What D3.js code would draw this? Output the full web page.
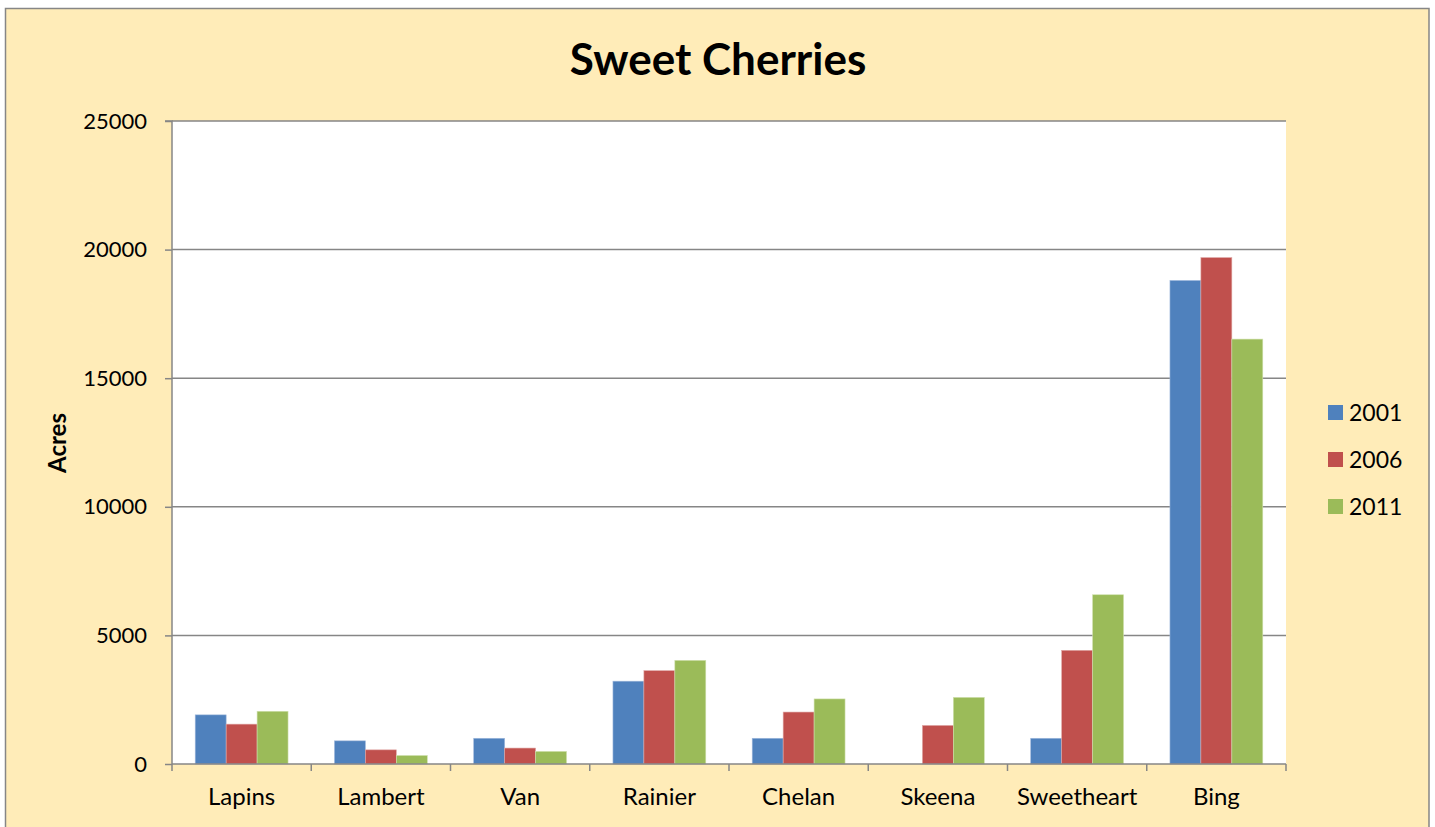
<!DOCTYPE html>
<html><head><meta charset="utf-8">
<script src="https://cdn.jsdelivr.net/npm/d3@7"></script>
<style>html,body{margin:0;padding:0;background:#fff;overflow:hidden}svg{display:block}</style>
</head><body>
<svg id="c" width="1435" height="827"></svg>
<script>
const categories = ["Lapins","Lambert","Van","Rainier","Chelan","Skeena","Sweetheart","Bing"];
const seriesNames = ["2001","2006","2011"];
const values2001 = [1910, 900, 1000, 3220, 1000, 0, 1000, 18800];
const values2006 = [1550, 550, 620, 3630, 2020, 1500, 4420, 19690];
const values2011 = [2050, 330, 490, 4030, 2530, 2590, 6580, 16520];
const yTicks = [0, 5000, 10000, 15000, 20000, 25000];
const colors = ["#4F81BD","#C0504D","#9BBB59"];

const series = [values2001, values2006, values2011];
const svg = d3.select("#c");
const font = "Lato, 'Open Sans', sans-serif";

svg.append("rect").attr("x",5.5).attr("y",8.5).attr("width",1423.5).attr("height",840)
  .attr("fill","#FFECB8").attr("stroke","#868686").attr("stroke-width",1.5);

const L=172, R=1286, T=121, B=764;
svg.append("rect").attr("x",L).attr("y",T).attr("width",R-L).attr("height",B-T).attr("fill","#fff");

const y = d3.scaleLinear().domain([0,25000]).range([B,T]);
const x0 = d3.scaleBand().domain(categories).range([L,R]).paddingInner(0).paddingOuter(0);
const bw = x0.bandwidth()/4.5;
const x1 = d3.scaleBand().domain(seriesNames).range([0, bw*3]);

// gridlines
svg.append("g").selectAll("line").data(yTicks.filter(d=>d>0)).join("line")
  .attr("x1",L).attr("x2",R).attr("y1",d=>y(d)).attr("y2",d=>y(d))
  .attr("stroke","#868686").attr("stroke-width",1.5);

// bars
const strokes = ["#9fb8dc","#e0a9a7","#cfe0ad"];
series.forEach((vals,si)=>{
  svg.append("g").selectAll("rect").data(categories).join("rect")
    .attr("x",(c)=>x0(c)+bw*0.75+x1(seriesNames[si]))
    .attr("width",x1.bandwidth())
    .attr("y",(c,i)=>y(vals[i]))
    .attr("height",(c,i)=>B-y(vals[i]))
    .attr("fill",colors[si])
    .attr("stroke",strokes[si])
    .attr("stroke-width",0.6);
});

// y axis
const yAxis = d3.axisLeft(y).tickValues(yTicks).tickSize(7).tickPadding(18).tickFormat(d3.format("d"));
const gy = svg.append("g").attr("transform",`translate(${L},0)`).call(yAxis);
gy.select(".domain").attr("stroke","#868686").attr("stroke-width",1.5).attr("d",`M-7,${T}H0V${B}`);
gy.selectAll(".tick line").attr("stroke","#868686").attr("stroke-width",1.5);
gy.selectAll("text").attr("font-family",font).attr("font-size",22).attr("fill","#000");

// x axis
const xAxis = d3.axisBottom(x0).tickSize(0).tickPadding(24);
const gx = svg.append("g").attr("transform",`translate(0,${B})`).call(xAxis);
gx.select(".domain").attr("stroke","#868686").attr("stroke-width",1.5).attr("d",`M${L},0H${R}`);
gx.selectAll("text").attr("font-family",font).attr("font-size",24).attr("fill","#000");
const bounds = categories.map(c=>x0(c)).concat([R]);
svg.append("g").selectAll("line").data(bounds).join("line")
  .attr("x1",d=>d).attr("x2",d=>d).attr("y1",B).attr("y2",B+7)
  .attr("stroke","#868686").attr("stroke-width",1.5);

// title
svg.append("text").attr("x",718).attr("y",75).attr("text-anchor","middle")
  .attr("font-family",font).attr("font-weight","bold").attr("font-size",44).text("Sweet Cherries");

// y title
svg.append("text").attr("transform","translate(66,443) rotate(-90)").attr("text-anchor","middle")
  .attr("font-family",font).attr("font-weight","bold").attr("font-size",24).text("Acres");

// legend
const lg = svg.append("g").selectAll("g").data(seriesNames).join("g")
  .attr("transform",(d,i)=>`translate(1328,${413+i*47})`);
lg.append("rect").attr("x",0).attr("y",-8).attr("width",15).attr("height",15).attr("fill",(d,i)=>colors[i]);
lg.append("text").attr("x",21).attr("y",0).attr("dy","0.35em").attr("font-family",font).attr("font-size",23).text(d=>d);
</script>
</body></html>
